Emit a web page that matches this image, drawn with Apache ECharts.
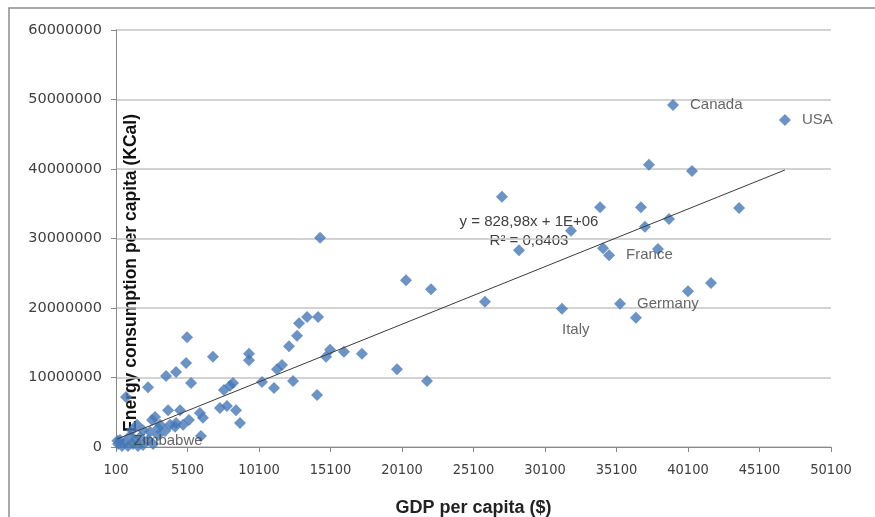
<!DOCTYPE html>
<html><head><meta charset="utf-8">
<script src="https://cdn.jsdelivr.net/npm/echarts@6/dist/echarts.min.js"></script>
<style>html,body{margin:0;padding:0;background:#fff}#c{width:875px;height:517px}</style>
</head><body><div id="c"></div>
<script>
// GDP per capita ($)
const gdp = [39050, 46880, 37370, 40380, 33950, 36810, 43670, 31920, 37090, 38770,
  34160, 34580, 38000, 41710, 40100, 35350, 31290, 36460, 27090, 28280,
  25900, 14370, 20380, 22130, 13460, 14230, 12900, 12760, 12200, 11710,
  11360, 15070, 14790, 16040, 17300, 19750, 12480, 11150, 14160, 21850,
  10310, 9400, 9400, 6880, 5070, 5000, 4300, 3600, 5350, 2340,
  800, 8490, 7860, 7370, 8770, 8280, 8070, 7650, 5970, 6180,
  5200, 4580, 3740, 4230, 2620, 6040, 2830, 3180, 3530, 3880,
  4300, 4790, 3040, 2480, 1990, 1780, 1430, 1080, 730, 380,
  240, 520, 940, 1290, 1640, 1990, 2340, 2690, 200, 1570,
  1220, 3040];
// Energy consumption per capita (KCal)
const energy = [49200000, 47050000, 40600000, 39700000, 34500000, 34500000, 34400000, 31100000, 31700000, 32800000,
  28600000, 27600000, 28500000, 23600000, 22400000, 20600000, 19900000, 18600000, 36000000, 28300000,
  20900000, 30100000, 24000000, 22700000, 18700000, 18700000, 17800000, 16000000, 14500000, 11800000,
  11200000, 14000000, 13000000, 13700000, 13400000, 11200000, 9500000, 8500000, 7500000, 9500000,
  9350000, 13400000, 12500000, 13000000, 15800000, 12100000, 10800000, 10200000, 9200000, 8600000,
  7200000, 5300000, 5900000, 5600000, 3450000, 9200000, 8800000, 8200000, 4900000, 4200000,
  3900000, 5300000, 5300000, 2900000, 3900000, 1600000, 4300000, 3200000, 2300000, 3200000,
  3450000, 3200000, 1700000, 2200000, 2400000, 1400000, 1000000, 1600000, 700000, 1000000,
  430000, 140000, 140000, 430000, 140000, 300000, 1000000, 430000, 900000, 3200000,
  2400000, 2700000];
// Country labels (empty = unlabelled point)
const names = ['Canada', 'USA', '', '', '', '', '', '', '', '',
  '', 'France', '', '', '', 'Germany', 'Italy', '', '', '',
  '', '', '', '', '', '', '', '', '', '',
  '', '', '', '', '', '', '', '', '', '',
  '', '', '', '', '', '', '', '', '', '',
  '', '', '', '', '', '', '', '', '', '',
  '', '', '', '', '', '', '', '', '', '',
  '', '', '', '', '', '', '', '', '', '',
  '', '', '', '', '', '', '', '', 'Zimbabwe', '',
  '', ''];
const xTicks = [100, 5100, 10100, 15100, 20100, 25100, 30100, 35100, 40100, 45100, 50100];
const yTicks = [0, 10000000, 20000000, 30000000, 40000000, 50000000, 60000000];
const trendSlope = [828.98];
const trendIntercept = [1000000];
const trendText = ['y = 828,98x + 1E+06', 'R² = 0,8403'];

const chart = echarts.init(document.getElementById('c'), null, {renderer: 'canvas'});
const labelFont = {fontFamily: 'Liberation Sans', fontSize: 15, color: '#404040'};
const labelCfg = {
  Canada: {position: 'right', distance: 11},
  USA: {position: 'right', distance: 11},
  France: {position: 'right', distance: 11},
  Germany: {position: 'right', distance: 11},
  Italy: {position: 'right', distance: 0, offset: [-6, 21]},
  Zimbabwe: {position: 'right', distance: 10}
};
const pts = gdp.map((g, i) => {
  const n = names[i];
  const item = {value: [g, energy[i]], name: n};
  if (n) item.label = Object.assign({show: true, formatter: n}, labelFont, labelCfg[n]);
  return item;
});
const xmin = Math.min(...gdp), xmax = Math.max(...gdp);
const trend = [xmin, xmax].map(x => [x, trendSlope[0] * x + trendIntercept[0]]);
const plain = v => String(Math.round(v));

chart.setOption({
  animation: false,
  grid: {left: 116, right: 44, top: 30, bottom: 70, containLabel: false, outerBoundsMode: 'none'},
  xAxis: {
    type: 'value', min: xTicks[0], max: xTicks[xTicks.length - 1],
    name: 'GDP per capita ($)', nameLocation: 'middle', nameGap: 52,
    nameTextStyle: {fontFamily: 'Liberation Sans', fontWeight: 'bold', fontSize: 18, color: '#222'},
    axisLine: {lineStyle: {color: '#888', width: 1}},
    axisTick: {show: true, length: 5, lineStyle: {color: '#888'}, customValues: xTicks},
    axisLabel: {customValues: xTicks, formatter: plain, margin: 16, fontFamily: 'DejaVu Sans Condensed', fontSize: 14.5, color: '#404040'},
    splitLine: {show: false}
  },
  yAxis: {
    type: 'value', min: yTicks[0], max: yTicks[yTicks.length - 1], interval: yTicks[1] - yTicks[0],
    axisLine: {show: true, lineStyle: {color: '#888', width: 1}},
    axisTick: {show: true, length: 5, lineStyle: {color: '#888'}},
    axisLabel: {formatter: plain, margin: 14, fontFamily: 'DejaVu Sans', fontSize: 14.5, color: '#404040'},
    splitLine: {show: true, lineStyle: {color: '#c4c4c4', width: 1.5}}
  },
  graphic: [
    {type: 'rect', silent: true, z: -10, shape: {x: 9, y: 8, width: 900, height: 600},
     style: {fill: 'none', stroke: '#8c8c8c', lineWidth: 1.5}},
    {type: 'text', silent: true, x: 131, y: 273, rotation: Math.PI / 2,
     style: {text: 'Energy consumption per capita (KCal)', fontFamily: 'Liberation Sans', fontWeight: 'bold', fontSize: 17.5,
       fill: '#111', align: 'center', verticalAlign: 'middle'}},
    {type: 'text', silent: true, x: 529, y: 222,
     style: {text: trendText[0], fontFamily: 'Liberation Sans', fontSize: 15, fill: '#404040', align: 'center', verticalAlign: 'middle'}},
    {type: 'text', silent: true, x: 529, y: 241,
     style: {text: trendText[1], fontFamily: 'Liberation Sans', fontSize: 15, fill: '#404040', align: 'center', verticalAlign: 'middle'}}
  ],
  series: [
    {type: 'scatter', symbol: 'diamond', symbolSize: [12, 12], clip: false,
     itemStyle: {color: '#4678B8'}, data: pts, z: 3},
    {type: 'line', data: trend, showSymbol: false, silent: true, z: 4,
     lineStyle: {color: '#3a3a3a', width: 1}}
  ]
});
</script>
</body></html>
